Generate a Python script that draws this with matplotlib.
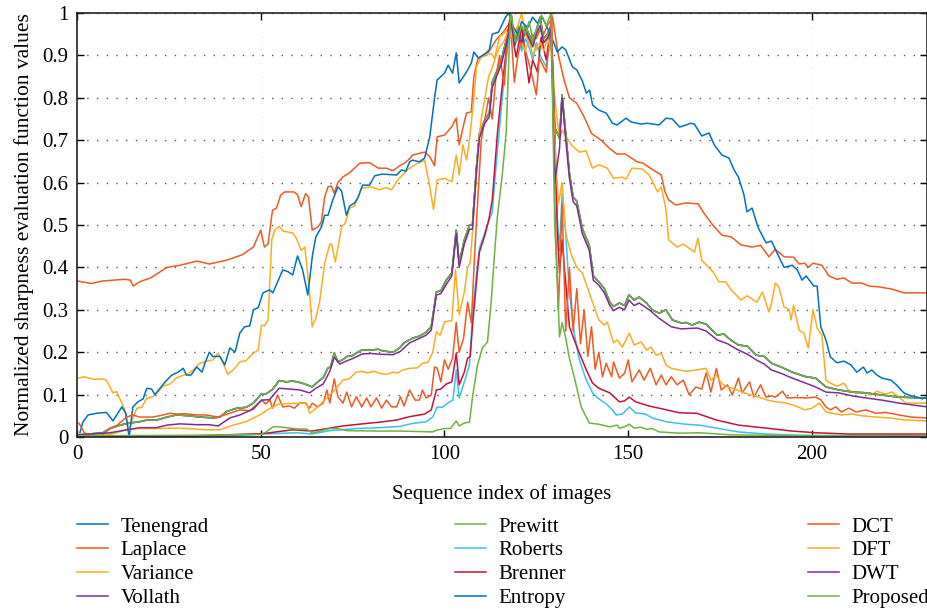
import matplotlib
matplotlib.use("Agg")
import matplotlib.pyplot as plt

plt.rcParams['font.family'] = ['Liberation Serif', 'DejaVu Serif']

# colours of the 12 focus measures (MATLAB default order, cycles after 7)
blue = '#0072BD'
orange = '#EE5A24'
yellow = '#F8AE22'
purple = '#7E2F8E'
green = '#6CB33F'
cyan = '#3DBFF0'
red = '#C2143A'

# (sequence index, normalized value)
laplace = [(0, 0.368), (2, 0.365), (4, 0.362), (7, 0.368), (10, 0.37), (13, 0.372), (14.5, 0.37),
           (15.3, 0.356), (17, 0.366), (20, 0.375), (24.5, 0.40), (28, 0.405), (32.6, 0.415),
           (36, 0.408), (40.7, 0.417), (45, 0.43), (48, 0.448), (50, 0.488), (51, 0.448), (52, 0.455),
           (53.2, 0.535), (54.3, 0.54), (55.4, 0.57), (56.5, 0.578), (59, 0.578), (60, 0.572),
           (61, 0.543), (62.2, 0.574), (63, 0.566), (64, 0.488), (65.5, 0.495), (66.5, 0.507),
           (67.4, 0.566), (68.3, 0.59), (69.2, 0.592), (70, 0.575), (71, 0.6), (72.3, 0.613),
           (74, 0.622), (75.5, 0.634), (77, 0.646), (79.6, 0.647), (82, 0.634), (84.2, 0.634),
           (86, 0.628), (87.8, 0.64), (89, 0.645), (90.5, 0.656), (91.3, 0.665), (94.6, 0.672),
           (96, 0.661), (97.3, 0.64), (98, 0.708), (100, 0.712), (102, 0.732), (103.2, 0.752),
           (104, 0.689), (105.2, 0.736), (106, 0.764), (107.3, 0.767), (108, 0.85), (109, 0.89),
           (110.3, 0.90), (112, 0.908), (114, 0.936), (115.8, 0.953), (117.7, 0.976), (119, 0.95),
           (120, 0.97), (121, 0.94), (122, 0.96), (123, 0.93), (124, 0.95), (125, 0.94), (126, 0.96),
           (127, 0.95), (128, 0.97), (129.4, 0.99), (131, 0.9), (132.6, 0.84), (134, 0.80),
           (136, 0.787), (138, 0.755), (140, 0.716), (142.6, 0.70), (145, 0.68), (147, 0.667),
           (149, 0.668), (150, 0.663), (152.4, 0.649), (154, 0.646), (156, 0.634), (159, 0.618),
           (160, 0.578), (161, 0.559), (163, 0.547), (165.6, 0.552), (169, 0.55), (170.6, 0.528),
           (173, 0.5), (175.5, 0.476), (178, 0.472), (180.7, 0.453), (183.7, 0.448), (186, 0.452),
           (188.3, 0.425), (190, 0.443), (192.4, 0.425), (195, 0.424), (196.5, 0.408), (198, 0.41),
           (199, 0.40), (200.3, 0.41), (202.7, 0.405), (204.6, 0.38), (206.8, 0.372), (208.7, 0.375),
           (210.9, 0.363), (213.6, 0.363), (215.5, 0.356), (218.2, 0.354), (221.7, 0.349),
           (225, 0.34), (231.3, 0.34)]

variance = [(0.5, 0.139), (2, 0.142), (4.5, 0.136), (7, 0.137), (8, 0.134), (9.8, 0.104), (10.8, 0.107),
            (13, 0.064), (14, 0.01), (15, 0.04), (16.3, 0.068), (17.6, 0.07), (19, 0.092), (20.6, 0.095),
            (22, 0.106), (23.4, 0.12), (25.3, 0.125), (27, 0.139), (29, 0.146), (30, 0.148),
            (31.6, 0.158), (33.4, 0.174), (35, 0.178), (37, 0.182), (38.4, 0.198), (39.8, 0.174),
            (41, 0.148), (42.5, 0.158), (44.3, 0.177), (46, 0.18), (48, 0.198), (49.3, 0.205),
            (50.2, 0.264), (51, 0.262), (52, 0.276), (53, 0.465), (53.8, 0.488), (55, 0.497),
            (56, 0.486), (58.7, 0.481), (59.7, 0.469), (61, 0.44), (62, 0.448), (63.3, 0.34),
            (64, 0.26), (65, 0.28), (66, 0.318), (67.4, 0.41), (68.8, 0.455), (69.3, 0.455),
            (70.3, 0.413), (72, 0.495), (73, 0.505), (74.2, 0.54), (75.5, 0.545), (77.4, 0.587),
            (80, 0.59), (82.3, 0.583), (84, 0.588), (85.6, 0.583), (87.3, 0.606), (89, 0.622),
            (90.5, 0.634), (92.5, 0.645), (94.6, 0.653), (96, 0.59), (97, 0.537), (98, 0.606),
            (100, 0.61), (102, 0.602), (103.2, 0.665), (104, 0.618), (105, 0.689), (106, 0.653),
            (106.8, 0.70), (108, 0.80), (108.7, 0.873), (110, 0.896), (112.7, 0.905), (113.6, 0.893),
            (115, 0.944), (116, 0.95), (117, 0.96), (118, 0.94), (119, 0.95), (120, 0.97), (121, 1.0),
            (122, 0.95), (123, 0.93), (124, 0.94), (125, 0.913), (126, 0.92), (127, 0.93), (128, 0.95),
            (129, 0.94), (130, 0.80), (131.3, 0.70), (132, 0.724), (133, 0.71), (134.5, 0.689),
            (136.7, 0.672), (138.5, 0.675), (140.3, 0.634), (142, 0.642), (144.3, 0.634), (146, 0.61),
            (148.4, 0.613), (149.4, 0.608), (151, 0.634), (153.8, 0.632), (155.7, 0.618), (158, 0.578),
            (159, 0.59), (160.3, 0.535), (161, 0.465), (163.3, 0.448), (165, 0.455), (168, 0.436),
            (169, 0.469), (170, 0.417), (173, 0.39), (174.7, 0.366), (176.5, 0.366), (178, 0.347),
            (180.7, 0.323), (182.4, 0.333), (185, 0.318), (186.5, 0.342), (188.3, 0.295), (189, 0.316),
            (190, 0.363), (191, 0.354), (192.4, 0.307), (193.8, 0.3), (194.3, 0.276), (195, 0.311),
            (196.5, 0.252), (197.8, 0.245), (199, 0.21), (200.3, 0.3), (201.4, 0.257), (202.7, 0.24),
            (203.8, 0.134), (205, 0.127), (206.8, 0.12), (208.7, 0.127), (210, 0.11), (212, 0.103),
            (214, 0.106), (216, 0.099), (217.7, 0.108), (220, 0.101), (221.8, 0.106), (224, 0.092),
            (225.5, 0.08), (231.3, 0.08)]

entropy = [(0.8, 0.01), (1.6, 0.035), (3, 0.052), (5.4, 0.056), (8, 0.058), (9.8, 0.038), (12.2, 0.071),
           (13.3, 0.056), (14.2, 0.0), (15.2, 0.071), (16.6, 0.083), (18, 0.09), (19, 0.115),
           (20.3, 0.113), (21.2, 0.1), (22.6, 0.115), (24, 0.13), (25.8, 0.146), (27.5, 0.153),
           (28.9, 0.162), (29.8, 0.146), (31, 0.146), (32.6, 0.165), (34, 0.153), (34.8, 0.174),
           (36, 0.2), (37, 0.19), (38.9, 0.19), (40.2, 0.17), (41.6, 0.21), (43, 0.2), (44.3, 0.245),
           (45.6, 0.26), (47, 0.262), (48, 0.3), (49.3, 0.305), (50.6, 0.34), (52.4, 0.347),
           (53.3, 0.34), (56, 0.394), (57.4, 0.39), (58.7, 0.382), (60, 0.427), (61.4, 0.394),
           (62.8, 0.335), (64.1, 0.43), (65, 0.472), (66.5, 0.495), (67.4, 0.523), (68.3, 0.523),
           (69.6, 0.559), (71, 0.59), (72, 0.58), (73.3, 0.523), (74.2, 0.545), (75.5, 0.552),
           (76.5, 0.565), (77.7, 0.594), (79.6, 0.594), (81, 0.616), (83, 0.62), (87, 0.618),
           (88.3, 0.63), (89.5, 0.627), (90.5, 0.649), (91.3, 0.653), (93.2, 0.649), (94.6, 0.658),
           (96, 0.708), (97.3, 0.80), (98, 0.842), (100, 0.858), (101, 0.877), (102.2, 0.858),
           (103.2, 0.906), (104, 0.835), (106, 0.861), (107.3, 0.882), (108, 0.908), (109.2, 0.894),
           (111, 0.903), (112.2, 0.913), (113, 0.95), (114.7, 0.955), (116.6, 0.99), (117.5, 1.0),
           (118.5, 0.97), (120, 0.95), (121, 0.98), (122.6, 0.965), (124, 0.99), (125.3, 0.976),
           (126.6, 0.99), (128, 0.965), (129.3, 0.94), (130.7, 0.908), (132, 0.92), (133, 0.913),
           (134.8, 0.873), (136, 0.866), (137.5, 0.84), (138.6, 0.811), (139.5, 0.818), (140.3, 0.783),
           (142, 0.771), (144, 0.764), (145.7, 0.74), (147, 0.736), (149.4, 0.752), (150.8, 0.743),
           (153.5, 0.738), (155.2, 0.74), (158.4, 0.736), (160.3, 0.752), (162, 0.75), (164, 0.731),
           (165.8, 0.736), (167, 0.74), (168, 0.738), (170, 0.71), (172, 0.717), (173.4, 0.689),
           (175.5, 0.665), (177.4, 0.658), (178.8, 0.63), (180, 0.613), (181.5, 0.571), (182.3, 0.531),
           (183.7, 0.54), (185.3, 0.495), (186, 0.483), (187.5, 0.458), (189, 0.462), (190.5, 0.434),
           (192.4, 0.40), (194.6, 0.405), (196, 0.394), (197.3, 0.37), (198.4, 0.38), (200.5, 0.356),
           (201.4, 0.356), (202.4, 0.26), (203.8, 0.229), (205, 0.189), (206.8, 0.175), (208.7, 0.179),
           (210.6, 0.17), (212.2, 0.153), (214, 0.165), (215, 0.151), (216.3, 0.158), (217.7, 0.146),
           (219, 0.139), (221.5, 0.134), (223, 0.123), (225, 0.104), (227, 0.097), (228.5, 0.094),
           (230, 0.09), (231.3, 0.094)]

# Tenengrad, Vollath and Prewitt lie on top of each other
prewitt = [(0.5, 0.005), (7, 0.01), (9, 0.02), (11.7, 0.028), (14.4, 0.033), (17, 0.036), (19, 0.04),
           (21.6, 0.04), (24.5, 0.047), (27, 0.052), (30.7, 0.05), (33.4, 0.047), (37, 0.045),
           (38.9, 0.047), (40.7, 0.06), (43.5, 0.068), (46, 0.07), (48, 0.08), (50.2, 0.102),
           (51.5, 0.102), (53.3, 0.113), (55, 0.133), (57, 0.13), (58.5, 0.132), (60, 0.13), (62, 0.125),
           (64, 0.118), (65.5, 0.13), (67, 0.14), (68.3, 0.163), (69, 0.165), (70, 0.198), (71, 0.177),
           (72.4, 0.183), (73.5, 0.19), (75, 0.192), (76, 0.198), (77.5, 0.205), (80, 0.205),
           (82, 0.207), (83.2, 0.203), (86, 0.2), (87.8, 0.21), (89, 0.222), (91.3, 0.233),
           (93.2, 0.238), (95, 0.247), (96.4, 0.26), (97.8, 0.342), (99, 0.345), (100.5, 0.37),
           (102, 0.387), (103.2, 0.488), (104, 0.41), (105.4, 0.465), (106.8, 0.5), (107.6, 0.5),
           (108.7, 0.637), (109.5, 0.716), (111, 0.748), (112.2, 0.764), (113, 0.837), (114.4, 0.866),
           (115.5, 0.89), (116.8, 0.936), (118.2, 0.995), (119, 0.93), (120, 0.96), (121, 0.92),
           (122, 0.97), (123, 0.95), (124, 0.93), (125, 0.96), (126, 0.99), (127, 0.94), (128, 0.95),
           (129, 0.97), (130, 0.73), (131.3, 0.705), (132, 0.807), (133, 0.716), (134, 0.622),
           (135, 0.566), (136, 0.556), (137.5, 0.492), (139.4, 0.452), (140.5, 0.38), (142, 0.366),
           (143.5, 0.35), (145, 0.318), (146, 0.308), (147.6, 0.316), (149, 0.31), (150.2, 0.335),
           (151.6, 0.323), (153, 0.33), (155, 0.316), (156.5, 0.3), (158.4, 0.292), (160.3, 0.3),
           (162, 0.276), (164.4, 0.269), (165.8, 0.27), (167.4, 0.264), (169.3, 0.271), (171.2, 0.266),
           (174.2, 0.24), (176, 0.243), (178, 0.228), (180, 0.217), (182.5, 0.214), (184.8, 0.193),
           (187, 0.19), (189, 0.174), (191.6, 0.165), (194.6, 0.153), (198.4, 0.142), (201, 0.139),
           (203.8, 0.118), (207.3, 0.111), (211, 0.106), (214.7, 0.104), (219, 0.099), (223.6, 0.094),
           (231.3, 0.092)]

dwt = [(0.5, 0.005), (9, 0.01), (13.6, 0.017), (17, 0.022), (21.6, 0.022), (24.5, 0.028), (28, 0.031),
       (32.6, 0.029), (36, 0.029), (38.4, 0.026), (41.6, 0.045), (44.3, 0.052), (48, 0.066),
       (50.2, 0.087), (52.4, 0.088), (55, 0.115), (58, 0.113), (60.6, 0.111), (63.3, 0.104),
       (65, 0.115), (67, 0.125), (68.8, 0.155), (70, 0.188), (71.5, 0.172), (73.5, 0.18), (75, 0.185),
       (77.7, 0.196), (80, 0.197), (83, 0.195), (86, 0.194), (88, 0.202), (90.5, 0.222), (93, 0.232),
       (95, 0.24), (96.4, 0.252), (97.8, 0.335), (99, 0.338), (100.5, 0.36), (102, 0.38),
       (103.2, 0.48), (104, 0.4), (105.4, 0.455), (106.8, 0.49), (107.6, 0.49), (108.7, 0.625),
       (109.5, 0.705), (111, 0.74), (112.2, 0.755), (113, 0.825), (114.4, 0.855), (115.5, 0.88),
       (116.8, 0.925), (118.2, 0.985), (119, 0.92), (120, 0.95), (121, 0.93), (122, 0.96),
       (123, 0.94), (124, 0.92), (125, 0.95), (126, 0.97), (127, 0.93), (128, 0.94), (129, 0.96),
       (130, 0.6), (131.3, 0.68), (132, 0.80), (133, 0.70), (134, 0.61), (135, 0.555), (136, 0.545),
       (137.5, 0.48), (139.4, 0.44), (140.5, 0.37), (142, 0.358), (143.5, 0.34), (145, 0.31),
       (146, 0.298), (147.6, 0.306), (149, 0.3), (150.2, 0.323), (151.6, 0.31), (153, 0.316),
       (155.7, 0.3), (158.4, 0.28), (161.7, 0.26), (164.4, 0.255), (168.8, 0.257), (171.2, 0.25),
       (174.2, 0.229), (177, 0.22), (180, 0.205), (182.5, 0.195), (184.8, 0.182), (187, 0.172),
       (189, 0.158), (191.6, 0.15), (194.6, 0.139), (198, 0.128), (201, 0.118), (203.8, 0.106),
       (207.3, 0.104), (211, 0.097), (214.7, 0.092), (219, 0.087), (223.6, 0.08), (231.3, 0.071)]

dct = [(0.5, 0.033), (2, 0.01), (4, 0.002), (7, 0.005), (9, 0.021), (11, 0.028), (13.5, 0.047),
       (15.2, 0.052), (17, 0.047), (20.6, 0.047), (23.4, 0.052), (25.3, 0.056), (27, 0.054),
       (29, 0.055), (32.6, 0.052), (35, 0.052), (38.4, 0.047), (41.6, 0.056), (44.3, 0.064),
       (47, 0.062), (50.3, 0.087), (51.3, 0.078), (52.5, 0.087), (53.2, 0.068), (54.6, 0.099),
       (56, 0.071), (57.8, 0.073), (59.2, 0.068), (60.6, 0.08), (62, 0.081), (63.3, 0.068),
       (64, 0.08), (65.5, 0.071), (67, 0.08), (68, 0.111), (68.8, 0.08), (70, 0.137), (71, 0.095),
       (72.4, 0.08), (73.4, 0.106), (74.7, 0.071), (76, 0.095), (77.5, 0.071), (78.8, 0.092),
       (80, 0.071), (81.5, 0.092), (82.9, 0.068), (84.2, 0.087), (85.6, 0.071), (87, 0.071),
       (88, 0.095), (89, 0.073), (90.5, 0.111), (92, 0.087), (93.2, 0.087), (94, 0.111), (95, 0.092),
       (96.4, 0.099), (97.3, 0.165), (98, 0.163), (99, 0.13), (100, 0.182), (101, 0.16),
       (102.2, 0.186), (103.2, 0.27), (104, 0.2), (105.2, 0.233), (106.3, 0.318), (107.3, 0.269),
       (108.2, 0.43), (109, 0.55), (110, 0.70), (111, 0.75), (112, 0.80), (113, 0.75), (114, 0.85),
       (115, 0.90), (116.3, 0.83), (117, 0.95), (118, 0.97), (119, 0.837), (120, 0.9), (121, 0.94),
       (122.6, 0.894), (123.6, 0.86), (125, 0.807), (125.8, 0.894), (127.7, 0.86), (129.2, 1.0),
       (130, 0.55), (131, 0.3), (132, 0.55), (133, 0.25), (134, 0.40), (135, 0.25), (136, 0.35),
       (137, 0.22), (138, 0.30), (139, 0.19), (140, 0.26), (141, 0.16), (142, 0.2), (143, 0.142),
       (144, 0.174), (145.5, 0.142), (146, 0.177), (147.6, 0.139), (149, 0.15), (150, 0.182),
       (151, 0.13), (153, 0.158), (154.3, 0.134), (156, 0.162), (157.6, 0.123), (159, 0.146),
       (160.3, 0.123), (161.7, 0.142), (163.3, 0.123), (165, 0.134), (166.6, 0.099), (168.4, 0.118),
       (170, 0.113), (171.2, 0.151), (172.5, 0.106), (174, 0.162), (175.3, 0.111), (177, 0.123),
       (178.3, 0.099), (180, 0.139), (181, 0.104), (183, 0.13), (184.2, 0.094), (186, 0.123),
       (187.5, 0.094), (189, 0.097), (190, 0.094), (192, 0.108), (193.2, 0.092), (195.6, 0.093),
       (198.3, 0.092), (201, 0.094), (202.4, 0.088), (203.8, 0.071), (205, 0.064), (206.5, 0.071),
       (208, 0.059), (210, 0.068), (212, 0.059), (214.6, 0.064), (217.4, 0.056), (220, 0.058),
       (223.6, 0.052), (227, 0.047), (231.3, 0.045)]

dft = [(0.5, 0.003), (6, 0.002), (9.8, 0.008), (13.6, 0.017), (17, 0.02), (22.6, 0.02), (26, 0.021),
       (29.8, 0.02), (35, 0.017), (38.9, 0.017), (42.5, 0.028), (46, 0.036), (49.7, 0.052),
       (52.6, 0.068), (55, 0.078), (58, 0.079), (62.5, 0.08), (63.3, 0.056), (64, 0.06),
       (65.5, 0.071), (68.8, 0.099), (70.6, 0.115), (72.3, 0.134), (74, 0.137), (76, 0.153),
       (77.5, 0.155), (79, 0.151), (81, 0.155), (82.3, 0.15), (84.2, 0.148), (86, 0.153),
       (87.3, 0.151), (88.6, 0.158), (90.5, 0.162), (92.6, 0.163), (94, 0.174), (95.5, 0.176),
       (96.8, 0.2), (97.8, 0.248), (98.8, 0.24), (100, 0.271), (101.3, 0.274), (102, 0.274),
       (103, 0.394), (104, 0.288), (105.4, 0.342), (106.3, 0.40), (107, 0.41), (107.7, 0.493),
       (108.7, 0.62), (109.5, 0.712), (110, 0.75), (111, 0.8), (112, 0.85), (113, 0.87), (114, 0.9),
       (115, 0.92), (116, 0.93), (117, 0.95), (118, 0.96), (119, 0.92), (120, 0.95), (121, 0.93),
       (122, 0.91), (123, 0.94), (124, 0.90), (125, 0.92), (126, 0.93), (127, 0.91), (128, 0.94),
       (129, 0.92), (130, 0.7), (131, 0.55), (132, 0.6), (133, 0.48), (134.5, 0.43), (136, 0.40),
       (137.5, 0.387), (139.4, 0.34), (141, 0.3), (142, 0.276), (143.5, 0.264), (144.3, 0.271),
       (146, 0.222), (147, 0.229), (148.4, 0.212), (150.3, 0.245), (151.6, 0.217), (153.5, 0.224),
       (155, 0.205), (156.2, 0.212), (157.6, 0.193), (159, 0.197), (160.3, 0.17), (161.7, 0.162),
       (163.9, 0.158), (165.7, 0.155), (168.4, 0.158), (171.2, 0.162), (172.5, 0.134), (174, 0.146),
       (175.3, 0.127), (177, 0.118), (179, 0.113), (181, 0.106), (183.4, 0.099), (185.6, 0.094),
       (187.8, 0.087), (190.2, 0.083), (193, 0.08), (195.6, 0.073), (198, 0.064), (200, 0.068),
       (202, 0.08), (203.8, 0.059), (205.5, 0.056), (208, 0.052), (211, 0.054), (213.6, 0.05),
       (217.4, 0.047), (221, 0.045), (225.5, 0.04), (231.3, 0.038)]

brenner = [(0.5, 0.002), (30, 0.002), (50.6, 0.008), (58.7, 0.017), (64, 0.014), (68.8, 0.021),
           (72.3, 0.026), (77.7, 0.031), (82.3, 0.035), (87, 0.04), (90.5, 0.048), (94.6, 0.054),
           (96.4, 0.064), (97.8, 0.111), (99, 0.113), (100.5, 0.125), (102, 0.13), (103.2, 0.198),
           (104, 0.123), (105.4, 0.153), (106.3, 0.186), (107, 0.19), (107.7, 0.27), (108.8, 0.375),
           (109.5, 0.436), (111, 0.476), (111.7, 0.5), (112.2, 0.519), (113, 0.559), (114.4, 0.716),
           (115.5, 0.811), (116.3, 0.873), (117.7, 0.983), (119.5, 0.896), (121, 0.967), (123, 0.835),
           (124, 0.889), (125.3, 0.861), (126.3, 0.943), (127.7, 0.889), (129, 0.976), (130, 0.716),
           (130.7, 0.488), (131.3, 0.387), (132, 0.465), (134, 0.26), (135.3, 0.229), (136.7, 0.198),
           (138.6, 0.158), (140.3, 0.127), (142, 0.115), (145, 0.104), (147.6, 0.083), (149, 0.085),
           (150.3, 0.094), (152, 0.083), (155.7, 0.073), (158.4, 0.068), (164, 0.057), (168.6, 0.056),
           (174, 0.04), (180, 0.028), (187.5, 0.021), (194.6, 0.014), (201, 0.01), (210, 0.007),
           (231.3, 0.007)]

roberts = [(0.5, 0.002), (40, 0.002), (50.3, 0.007), (59.8, 0.01), (64, 0.007), (68.8, 0.015),
           (76, 0.02), (82.3, 0.022), (87.8, 0.025), (91.3, 0.032), (95, 0.036), (96.8, 0.047),
           (98, 0.071), (99.4, 0.07), (100.9, 0.08), (102.3, 0.087), (103.2, 0.158), (104, 0.092),
           (105.4, 0.13), (106.8, 0.17), (107.7, 0.295), (108.7, 0.382), (109.5, 0.445), (111.4, 0.493),
           (112.2, 0.512), (113, 0.53), (114, 0.637), (115, 0.731), (116, 0.825), (117, 0.905),
           (118, 0.983), (119, 0.93), (120, 0.95), (121, 0.91), (122, 0.94), (123, 0.92), (124, 0.89),
           (125, 0.93), (126, 0.9), (127.7, 0.873), (129, 0.95), (130, 0.73), (130.7, 0.519),
           (131.3, 0.44), (132, 0.575), (133, 0.48), (134, 0.34), (135.3, 0.245), (136.7, 0.182),
           (138.6, 0.134), (140.3, 0.104), (142, 0.09), (144, 0.078), (145.7, 0.064), (146.7, 0.052),
           (148.4, 0.054), (150.3, 0.071), (152, 0.057), (154.7, 0.054), (156.5, 0.045), (160.3, 0.036),
           (165.7, 0.03), (169.3, 0.028), (174, 0.021), (180, 0.012), (187.5, 0.007), (196.5, 0.004),
           (231.3, 0.002)]

proposed = [(0.5, 0.003), (30, 0.004), (50, 0.006), (51.5, 0.012), (53.3, 0.024), (55, 0.024),
            (59.8, 0.019), (62.5, 0.019), (64, 0.009), (68.8, 0.02), (70.6, 0.02), (73.5, 0.015),
            (82.3, 0.014), (87.8, 0.014), (96.8, 0.012), (97.8, 0.016), (100, 0.02), (101.6, 0.02),
            (103.2, 0.038), (104, 0.026), (105.4, 0.033), (106.8, 0.035), (107.7, 0.099), (109, 0.17),
            (110.3, 0.21), (111.7, 0.224), (112.7, 0.318), (113.6, 0.43), (114.4, 0.52), (115.8, 0.625),
            (116.8, 0.72), (117.7, 0.94), (118, 1.0), (119.5, 0.93), (121, 0.97), (122, 0.95),
            (123, 0.98), (124, 0.94), (125, 0.96), (126.4, 0.995), (127.7, 0.97), (129, 1.0),
            (130, 0.5), (130.8, 0.342), (131.3, 0.236), (132, 0.27), (133, 0.233), (134, 0.185),
            (135.3, 0.142), (137.2, 0.071), (139.4, 0.033), (142, 0.03), (145, 0.024), (147, 0.028),
            (147.6, 0.021), (149, 0.024), (150.3, 0.03), (151.6, 0.021), (153.5, 0.023), (155, 0.018),
            (156.5, 0.02), (158.4, 0.012), (164, 0.009), (169.3, 0.01), (178, 0.005), (200, 0.003),
            (231.3, 0.003)]

series = [
    ('Tenengrad', prewitt, blue),
    ('Laplace', laplace, orange),
    ('Variance', variance, yellow),
    ('Vollath', prewitt, purple),
    ('Prewitt', prewitt, green),
    ('Roberts', roberts, cyan),
    ('Brenner', brenner, red),
    ('Entropy', entropy, blue),
    ('DCT', dct, orange),
    ('DFT', dft, yellow),
    ('DWT', dwt, purple),
    ('Proposed', proposed, green),
]

fig = plt.figure(figsize=(9.28, 6.13), dpi=100)
ax = fig.add_axes([77 / 928, 1 - 437 / 613, 850 / 928, 424 / 613])

handles = []
for name, pts, col in series:
    xs = [p[0] for p in pts]
    ys = [p[1] for p in pts]
    ln, = ax.plot(xs, ys, color=col, lw=1.1, label=name)
    handles.append(ln)

ax.set_xlim(0, 231.3)
ax.set_ylim(0, 1)
ax.set_xticks([0, 50, 100, 150, 200])
ax.set_yticks([0, 0.1, 0.2, 0.3, 0.4, 0.5, 0.6, 0.7, 0.8, 0.9, 1])
ax.set_yticklabels(['0', '0.1', '0.2', '0.3', '0.4', '0.5', '0.6', '0.7', '0.8', '0.9', '1'])
ax.tick_params(direction='in', top=True, right=True, length=5, width=1, labelsize=15, pad=6)
ax.yaxis.grid(True, color='#555555', linestyle=(0, (1, 6)), lw=1.0)
ax.xaxis.grid(True, color='#e4e4e4', linestyle=(0, (1, 3)), lw=0.8)
for s in ax.spines.values():
    s.set_linewidth(1.2)
    s.set_color('#222222')

ax.set_xlabel('Sequence index of images', fontsize=15, labelpad=14)
ax.set_ylabel('Normalized sharpness evaluation function values', fontsize=15.5, labelpad=6)

# three legend columns below the plot
col_x = [77 / 928, 455 / 928, 808 / 928]
for i in range(3):
    fig.legend(handles=handles[i * 4:(i + 1) * 4], loc='upper left',
               bbox_to_anchor=(col_x[i], 1 - 517 / 613), frameon=False, fontsize=15,
               borderpad=0, borderaxespad=0, handlelength=1.5, handletextpad=0.6,
               labelspacing=0.2)

fig.savefig('out.png', dpi=100)
